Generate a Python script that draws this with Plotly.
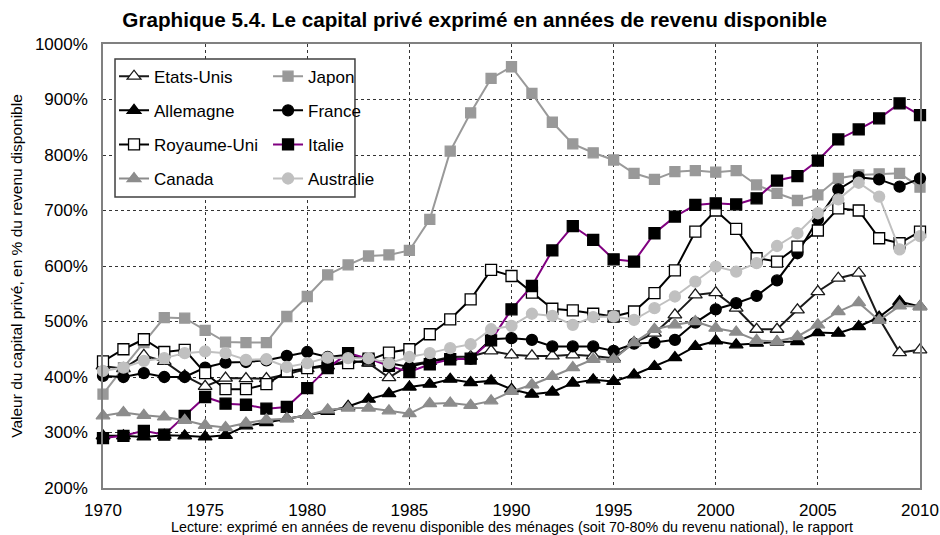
import plotly.graph_objects as go

years = list(range(1970, 2011))

etats_unis = [420, 415, 439, 428, 402, 383, 398, 397, 397, 405, 415, 420, 430, 425, 399, 422, 428, 436, 437, 447,
              440, 438, 438, 440, 438, 434, 462, 479, 512, 548, 552, 524, 486, 486, 521, 554, 578, 587, 506, 444, 449]
japon = [369, 417, 462, 507, 506, 484, 463, 462, 462, 509, 545, 584, 602, 618, 620, 628, 684, 807, 876, 938,
         959, 911, 859, 820, 804, 791, 767, 756, 770, 772, 769, 772, 746, 731, 718, 728, 758, 764, 766, 767, 742]
allemagne = [294, 294, 292, 295, 294, 292, 295, 312, 318, 325, 331, 338, 347, 360, 370, 382, 387, 396, 390, 393,
             378, 369, 373, 389, 395, 392, 404, 419, 435, 455, 465, 458, 461, 463, 464, 480, 479, 491, 508, 536, 527]
france = [402, 400, 407, 400, 400, 417, 426, 427, 430, 438, 445, 436, 440, 432, 425, 418, 428, 433, 433, 468,
          470, 467, 455, 455, 455, 447, 460, 462, 467, 498, 522, 533, 546, 574, 623, 684, 738, 760, 756, 743, 758]
royaume_uni = [428, 450, 468, 445, 449, 407, 378, 378, 387, 410, 416, 422, 425, 430, 444, 450, 477, 504, 540, 593,
               582, 552, 523, 520, 514, 509, 518, 551, 592, 662, 700, 667, 614, 608, 635, 664, 704, 700, 650, 641, 662]
italie = [290, 294, 303, 296, 330, 364, 352, 350, 343, 346, 380, 416, 443, 433, 420, 409, 423, 432, 433, 466,
          522, 564, 628, 672, 647, 612, 608, 659, 689, 710, 713, 711, 722, 754, 762, 790, 828, 846, 866, 893, 872]
canada = [330, 336, 331, 328, 322, 313, 309, 317, 323, 325, 331, 341, 344, 344, 339, 334, 352, 353, 349, 357,
          374, 386, 401, 417, 432, 432, 462, 486, 494, 500, 488, 481, 466, 464, 473, 494, 518, 534, 502, 528, 527]
australie = [411, 417, 429, 434, 443, 446, 443, 431, 432, 418, 425, 435, 434, 434, 425, 436, 443, 452, 459, 486,
             492, 514, 510, 494, 508, 509, 503, 524, 545, 572, 599, 590, 605, 636, 659, 695, 720, 750, 725, 630, 654]

y_ticks = [200, 300, 400, 500, 600, 700, 800, 900, 1000]
y_tick_labels = ["200%", "300%", "400%", "500%", "600%", "700%", "800%", "900%", "1000%"]
x_ticks = [1970, 1975, 1980, 1985, 1990, 1995, 2000, 2005, 2010]

FONT = "Liberation Sans, Arial, sans-serif"

series = [
    ("Etats-Unis", etats_unis, "#1a1a1a", "triangle-up", "white", "#1a1a1a", 12, "legend"),
    ("Japon", japon, "#999999", "square", "#999999", "#999999", 10, "legend2"),
    ("Allemagne", allemagne, "#000000", "triangle-up", "#000000", "#000000", 12, "legend"),
    ("France", france, "#000000", "circle", "#000000", "#000000", 11, "legend2"),
    ("Royaume-Uni", royaume_uni, "#000000", "square", "white", "#000000", 11, "legend"),
    ("Italie", italie, "#800080", "square", "#000000", "#000000", 11, "legend2"),
    ("Canada", canada, "#8c8c8c", "triangle-up", "#8c8c8c", "#8c8c8c", 12, "legend"),
    ("Australie", australie, "#c0c0c0", "circle", "#c0c0c0", "#c0c0c0", 11, "legend2"),
]

fig = go.Figure()
for name, vals, lc, sym, fill, mline, size, leg in series:
    fig.add_trace(go.Scatter(
        x=years, y=vals, name=name, mode="lines+markers",
        line=dict(color=lc, width=2),
        marker=dict(symbol=sym, size=size, color=fill, line=dict(color=mline, width=1.3)),
        cliponaxis=False, legend=leg, legendgroup=name,
    ))

fig.update_layout(
    width=940, height=535,
    margin=dict(l=103, r=20, t=44, b=47, autoexpand=False),
    paper_bgcolor="white", plot_bgcolor="white",
    font=dict(family=FONT, size=17, color="black"),
    title=dict(text="<b>Graphique 5.4. Le capital privé exprimé en années de revenu disponible</b>",
               x=0.505, xanchor="center", y=0.963, yanchor="middle", automargin=False,
               font=dict(size=20.7, family=FONT, color="black")),
    xaxis=dict(range=[1970, 2010], tickvals=x_ticks, showgrid=True, gridcolor="#333333",
               griddash="dot", gridwidth=1.3, showline=True, mirror=True, linecolor="#808080",
               linewidth=1.5, zeroline=False, ticks="", ticklabelstandoff=6, automargin=False,
               tickfont=dict(size=17, family=FONT)),
    yaxis=dict(range=[200, 1000], tickvals=y_ticks, ticktext=y_tick_labels, showgrid=True,
               gridcolor="#333333", griddash="dot", gridwidth=1.3, showline=True, mirror=True,
               linecolor="#808080", linewidth=1.5, zeroline=False, ticks="", ticklabelstandoff=10,
               automargin=False, tickfont=dict(size=17, family=FONT),
               title=dict(text="Valeur du capital privé, en % du revenu disponible",
                          font=dict(size=15.5, family=FONT), standoff=8)),
    legend=dict(x=0.0135, y=0.967, xanchor="left", yanchor="top", bgcolor="rgba(0,0,0,0)",
                borderwidth=0, tracegroupgap=9, font=dict(size=17, family=FONT)),
    legend2=dict(x=0.202, y=0.967, xanchor="left", yanchor="top", bgcolor="rgba(0,0,0,0)",
                 borderwidth=0, tracegroupgap=9, font=dict(size=17, family=FONT)),
    shapes=[dict(type="rect", xref="paper", yref="paper", x0=0.0147, x1=0.3084, y0=0.6554, y1=0.9662,
                 line=dict(color="#404040", width=1.5), fillcolor="white", layer="above")],
    annotations=[dict(text="Lecture: exprimé en années de revenu disponible des ménages (soit 70-80% du revenu national), le rapport",
                      xref="paper", yref="paper", x=0.5, y=-0.0885, xanchor="center", yanchor="middle",
                      showarrow=False,
                      font=dict(size=14.3, family="Liberation Sans Narrow, Arial Narrow, Liberation Sans, sans-serif"))],
)

fig.write_html("out.html", config={"displayModeBar": False},
               post_script="document.body.style.margin='0';document.body.style.overflow='hidden';")
